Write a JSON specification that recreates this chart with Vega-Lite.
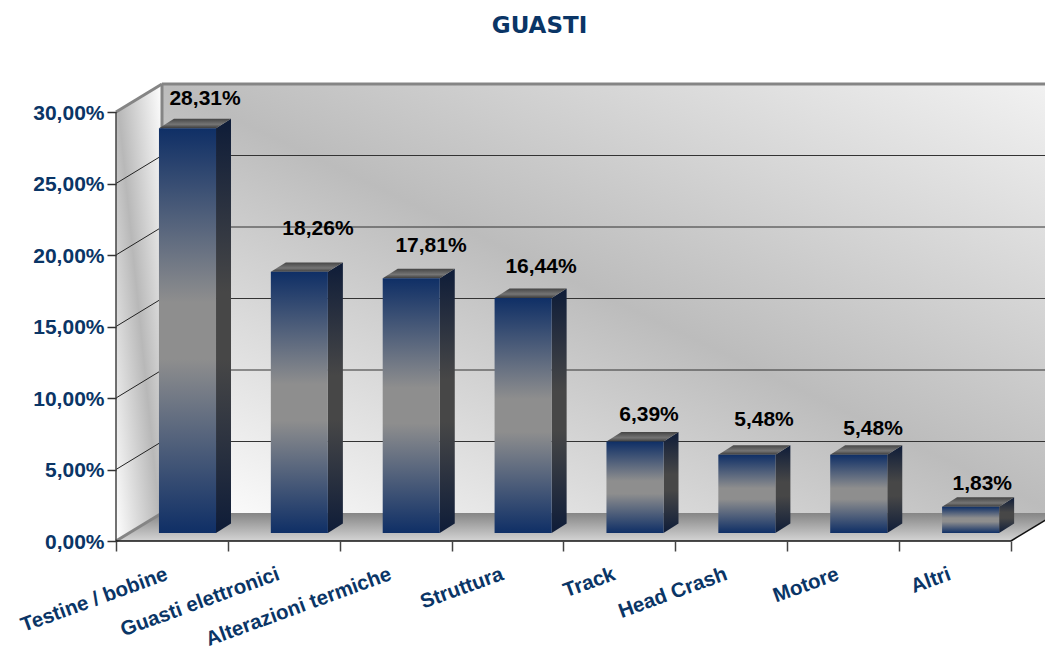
{"$schema":"https://vega.github.io/schema/vega-lite/v6.json","width":1045,"height":651,"padding":0,"autosize":{"type":"none"},"background":"white","view":{"stroke":null},
"title":{"text":"GUASTI","font":"DejaVu Sans","fontSize":23,"fontWeight":"bold","color":"#0a3566","anchor":"middle","frame":"group","offset":-38,"baseline":"top","dx":17},
"datasets":{"guasti":[{"categoria":"Testine / bobine","valore":28.31,"ordine":0},{"categoria":"Guasti elettronici","valore":18.26,"ordine":1},{"categoria":"Alterazioni termiche","valore":17.81,"ordine":2},{"categoria":"Struttura","valore":16.44,"ordine":3},{"categoria":"Track","valore":6.39,"ordine":4},{"categoria":"Head Crash","valore":5.48,"ordine":5},{"categoria":"Motore","valore":5.48,"ordine":6},{"categoria":"Altri","valore":1.83,"ordine":7}],
"griglia":[{"v":5},{"v":10},{"v":15},{"v":20},{"v":25}],"prof":[{"d":0},{"d":1}],"uno":[{"v":0}]},
"encoding":{"x":{"field":"x","type":"quantitative","scale":{"domain":[-1.03687,8.30391],"range":[0,1045],"nice":false,"zero":false},"axis":{"title":null,"values":[0,1,2,3,4,5,6,7,8],"labels":false,"domain":false,"grid":false,"offset":-110,"tickColor":"#444444","tickSize":10,"tickWidth":1.5,"zindex":1}},
"y":{"field":"y","type":"quantitative","scale":{"domain":[-7.6923,37.8322],"range":[651,0],"nice":false,"zero":false},"axis":{"title":null,"values":[0,5,10,15,20,25,30],"domain":false,"grid":false,"offset":-116,"labelExpr":"replace(format(datum.value,'.2f'),'.',',')+'%'","labelFont":"Liberation Sans","labelFontSize":21,"labelFontWeight":"bold","labelColor":"#0a3566","labelPadding":3,"labelOffset":1,"tickColor":"#333333","tickSize":9,"tickWidth":1.5,"zindex":1}}},
"layer":[
{"data":{"name":"uno"},"transform":[{"calculate":"0.4112","as":"x"},{"calculate":"8.4112","as":"x2"},{"calculate":"1.958","as":"y"},{"calculate":"31.958","as":"y2"}],"mark":{"type":"rect","fill":{"x1":0,"y1":1,"x2":1,"y2":0,"gradient":"linear","stops":[{"offset":0,"color":"#ffffff"},{"offset":0.5,"color":"#bcbcbc"},{"offset":1,"color":"#f2f2f2"}]}},"encoding":{"x2":{"field":"x2"},"y2":{"field":"y2"}}},
{"data":{"name":"prof"},"transform":[{"calculate":"datum.d*0.4112","as":"x"},{"calculate":"8+datum.d*0.4112","as":"x2"},{"calculate":"datum.d*1.958","as":"y"}],"mark":{"type":"area","orient":"horizontal","fill":{"x1":0,"y1":0,"x2":0,"y2":1,"gradient":"linear","stops":[{"offset":0,"color":"#858585"},{"offset":1,"color":"#d4d4d4"}]}},"encoding":{"x2":{"field":"x2"}}},
{"data":{"name":"prof"},"transform":[{"calculate":"datum.d*0.4112","as":"x"},{"calculate":"datum.d*1.958","as":"y"},{"calculate":"30+datum.d*1.958","as":"y2"}],"mark":{"type":"area","orient":"vertical","fill":{"x1":0,"y1":1,"x2":1,"y2":0,"gradient":"linear","stops":[{"offset":0,"color":"#ffffff"},{"offset":0.5,"color":"#b8b8b8"},{"offset":1,"color":"#ffffff"}]}},"encoding":{"y2":{"field":"y2"}}},
{"data":{"name":"griglia"},"transform":[{"calculate":"0.4112","as":"x"},{"calculate":"8.4112","as":"x2"},{"calculate":"datum.v+1.958","as":"y"}],"mark":{"type":"rule","color":"#333333","strokeWidth":1},"encoding":{"x2":{"field":"x2"}}},
{"data":{"name":"griglia"},"transform":[{"calculate":"0","as":"x"},{"calculate":"0.4112","as":"x2"},{"calculate":"datum.v","as":"y"},{"calculate":"datum.v+1.958","as":"y2"}],"mark":{"type":"rule","color":"#222222","strokeWidth":1},"encoding":{"x2":{"field":"x2"},"y2":{"field":"y2"}}},
{"data":{"name":"uno"},"transform":[{"calculate":"0.4112","as":"x"},{"calculate":"8.4112","as":"x2"},{"calculate":"31.958","as":"y"}],"mark":{"type":"rule","color":"#858585","strokeWidth":3},"encoding":{"x2":{"field":"x2"}}},
{"data":{"name":"uno"},"transform":[{"calculate":"0.4112","as":"x"},{"calculate":"1.958","as":"y"},{"calculate":"31.958","as":"y2"}],"mark":{"type":"rule","color":"#858585","strokeWidth":3},"encoding":{"y2":{"field":"y2"}}},
{"data":{"name":"uno"},"transform":[{"calculate":"0","as":"x"},{"calculate":"0.4112","as":"x2"},{"calculate":"30","as":"y"},{"calculate":"31.958","as":"y2"}],"mark":{"type":"rule","color":"#858585","strokeWidth":3},"encoding":{"x2":{"field":"x2"},"y2":{"field":"y2"}}},
{"data":{"name":"uno"},"transform":[{"calculate":"0","as":"x"},{"calculate":"0.4112","as":"x2"},{"calculate":"0","as":"y"},{"calculate":"1.958","as":"y2"}],"mark":{"type":"rule","color":"#858585","strokeWidth":3},"encoding":{"x2":{"field":"x2"},"y2":{"field":"y2"}}},
{"data":{"name":"uno"},"transform":[{"calculate":"0","as":"x"},{"calculate":"0","as":"y"},{"calculate":"30","as":"y2"}],"mark":{"type":"rule","color":"#444444","strokeWidth":1.5},"encoding":{"y2":{"field":"y2"}}},
{"data":{"name":"uno"},"transform":[{"calculate":"0","as":"x"},{"calculate":"8","as":"x2"},{"calculate":"0","as":"y"}],"mark":{"type":"rule","color":"#111111","strokeWidth":1.5},"encoding":{"x2":{"field":"x2"}}},
{"data":{"name":"uno"},"transform":[{"calculate":"8","as":"x"},{"calculate":"8.4112","as":"x2"},{"calculate":"0","as":"y"},{"calculate":"1.958","as":"y2"}],"mark":{"type":"rule","color":"#111111","strokeWidth":1.5},"encoding":{"x2":{"field":"x2"},"y2":{"field":"y2"}}},
{"data":{"name":"guasti"},"transform":[{"calculate":"[0,1]","as":"d"},{"flatten":["d"]},{"calculate":"datum.ordine+0.894+datum.d*0.134","as":"x"},{"calculate":"datum.valore+0.56+datum.d*0.664","as":"y"},{"calculate":"0.56+datum.d*0.664","as":"y2"}],"mark":{"type":"area","orient":"vertical","fill":{"x1":0,"y1":0,"x2":0,"y2":1,"gradient":"linear","stops":[{"offset":0,"color":"#0e1c38"},{"offset":0.42,"color":"#474747"},{"offset":0.58,"color":"#474747"},{"offset":1,"color":"#0e1c38"}]}},"encoding":{"y2":{"field":"y2"},"detail":{"field":"categoria"}}},
{"data":{"name":"guasti"},"transform":[{"calculate":"[0,1]","as":"d"},{"flatten":["d"]},{"calculate":"datum.ordine+0.384+datum.d*0.134","as":"x"},{"calculate":"datum.ordine+0.894+datum.d*0.134","as":"x2"},{"calculate":"datum.valore+0.56+datum.d*0.664","as":"y"}],"mark":{"type":"area","orient":"horizontal","fill":{"x1":0,"y1":0,"x2":0,"y2":1,"gradient":"linear","stops":[{"offset":0,"color":"#454545"},{"offset":0.6,"color":"#757575"},{"offset":1,"color":"#3c3c3c"}]}},"encoding":{"x2":{"field":"x2"},"detail":{"field":"categoria"}}},
{"data":{"name":"guasti"},"transform":[{"calculate":"datum.ordine+0.384","as":"x"},{"calculate":"datum.ordine+0.894","as":"x2"},{"calculate":"datum.valore+0.56","as":"y"},{"calculate":"0.56","as":"y2"}],"mark":{"type":"rect","fill":{"x1":0,"y1":0,"x2":0,"y2":1,"gradient":"linear","stops":[{"offset":0,"color":"#0f2f66"},{"offset":0.43,"color":"#8e8e8e"},{"offset":0.57,"color":"#8e8e8e"},{"offset":1,"color":"#0f2f66"}]}},"encoding":{"x2":{"field":"x2"},"y2":{"field":"y2"}}},
{"data":{"name":"guasti"},"transform":[{"calculate":"datum.ordine+[0.796,0.805,0.816,0.799,0.764,0.792,0.767,0.743][datum.ordine]","as":"x"},{"calculate":"datum.valore+0.56+[2.1,3.08,2.31,2.24,1.96,2.52,1.89,1.68][datum.ordine]","as":"y"},{"calculate":"replace(format(datum.valore,'.2f'),'.',',')+'%'","as":"etichetta"}],"mark":{"type":"text","font":"Liberation Sans","fontSize":21,"fontWeight":"bold","color":"#000000","align":"center","baseline":"middle","dy":1},"encoding":{"text":{"field":"etichetta"}}},
{"data":{"name":"guasti"},"transform":[{"calculate":"datum.ordine+0.456","as":"x"},{"calculate":"-2.28","as":"y"}],"mark":{"type":"text","font":"Liberation Sans","fontSize":20.5,"fontWeight":"bold","color":"#0a3566","align":"right","baseline":"middle","angle":340},"encoding":{"text":{"field":"categoria"}}}
]}
